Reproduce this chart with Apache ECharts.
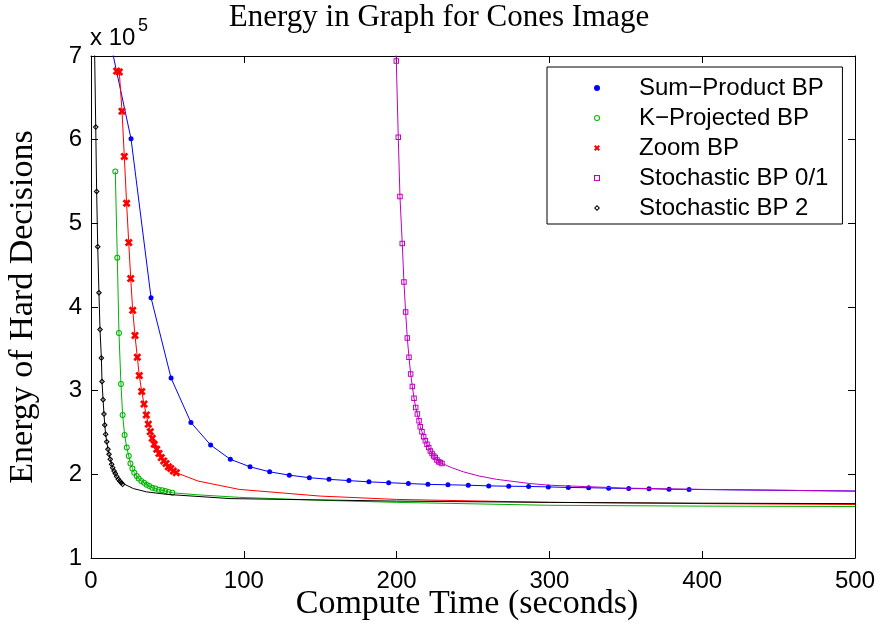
<!DOCTYPE html>
<html>
<head>
<meta charset="utf-8">
<title>Energy in Graph for Cones Image</title>
<script src="https://cdn.jsdelivr.net/npm/echarts@6/dist/echarts.min.js"></script>
<style>
  html, body { margin: 0; padding: 0; background: #fff; }
  #chart { width: 878px; height: 626px; }
</style>
</head>
<body>
<div id="chart"></div>
<script>
// values; energy in units of 1e5, time in seconds
var xTicks = [0, 100, 200, 300, 400, 500];
var yTicks = [1, 2, 3, 4, 5, 6, 7];
var seriesNames = ['Sum\u2212Product BP', 'K\u2212Projected BP', 'Zoom BP', 'Stochastic BP 0/1', 'Stochastic BP 2'];

// Sum-Product BP (markers, then the line tail without markers)
var spMarkX = [13.2, 26.2, 39.3, 52.4, 65.4, 78.3, 91.2, 104.1, 116.9, 129.8, 142.9, 155.8, 168.8, 181.9, 194.8,
  207.7, 220.5, 233.6, 246.9, 260.3, 273.4, 286.4, 299.3, 312.4, 325.7, 338.8, 351.9, 365.2, 378.3, 391.4];
var spMarkY = [7.12, 6.01, 4.11, 3.15, 2.62, 2.35, 2.18, 2.09, 2.03, 1.99, 1.96, 1.94, 1.925, 1.91, 1.90,
  1.89, 1.88, 1.875, 1.87, 1.862, 1.858, 1.855, 1.85, 1.843, 1.84, 1.835, 1.83, 1.828, 1.822, 1.82];
var spTailX = [500];
var spTailY = [1.80];

// K-Projected BP
var kpMarkX = [15.9, 17.2, 18.3, 19.6, 20.7, 22.0, 23.4, 24.7, 25.8, 27.1, 28.3, 29.9, 31.2, 32.9, 34.7, 36.4,
  38.2, 40.1, 42.1, 44.3, 46.5, 48.6, 50.8, 53.2];
var kpMarkY = [5.62, 4.59, 3.69, 3.08, 2.71, 2.47, 2.32, 2.22, 2.13, 2.07, 2.02, 1.98, 1.95, 1.92, 1.90, 1.875,
  1.86, 1.84, 1.83, 1.815, 1.81, 1.80, 1.79, 1.78];
var kpTailX = [70, 97, 150, 200, 300, 400, 500];
var kpTailY = [1.755, 1.725, 1.69, 1.665, 1.63, 1.62, 1.615];

// Zoom BP
var zmMarkX = [16.8, 18.5, 20.3, 21.8, 23.3, 24.7, 26.0, 27.3, 28.8, 30.3, 31.6, 33.2, 34.7, 36.2, 37.5, 38.8,
  40.1, 41.4, 43.0, 44.5, 46.0, 47.6, 49.1, 50.6, 52.2, 53.9, 55.8];
var zmMarkY = [6.82, 6.81, 6.34, 5.80, 5.24, 4.77, 4.34, 3.96, 3.66, 3.40, 3.18, 2.99, 2.84, 2.71, 2.60, 2.51,
  2.43, 2.36, 2.30, 2.25, 2.20, 2.16, 2.13, 2.09, 2.07, 2.04, 2.02];
var zmTailX = [70, 97, 150, 200, 300, 400, 500];
var zmTailY = [1.92, 1.82, 1.74, 1.70, 1.665, 1.65, 1.64];

// Stochastic BP 0/1
var s01MarkX = [198.6, 199.8, 201.1, 202.2, 203.7, 204.8, 205.9, 207.0, 208.1, 209.2, 210.3, 211.4, 212.5, 213.6,
  214.7, 215.5, 216.6, 217.7, 218.8, 219.9, 221.0, 222.1, 223.2, 224.3, 225.3, 226.4, 227.5, 228.6, 229.7];
var s01MarkY = [8.0, 6.94, 6.03, 5.32, 4.76, 4.30, 3.94, 3.63, 3.40, 3.20, 3.05, 2.91, 2.80, 2.72,
  2.64, 2.57, 2.51, 2.45, 2.40, 2.36, 2.32, 2.28, 2.25, 2.22, 2.20, 2.17, 2.15, 2.14, 2.13];
var s01TailX = [236, 243.7, 254, 265.5, 287.3, 300, 350, 400, 450, 500];
var s01TailY = [2.08, 2.03, 1.98, 1.94, 1.89, 1.87, 1.835, 1.82, 1.81, 1.80];

// Stochastic BP 2
var s2MarkX = [2.2, 3.1, 3.7, 4.4, 5.2, 5.9, 6.8, 7.2, 7.9, 8.5, 9.0, 9.6, 10.3, 11.1, 11.8, 12.6, 13.5, 14.2,
  15.1, 15.9, 16.8, 17.9, 18.8, 19.8, 20.7];
var s2MarkY = [7.25, 6.15, 5.38, 4.72, 4.17, 3.73, 3.39, 3.11, 2.89, 2.72, 2.59, 2.48, 2.39, 2.30, 2.24, 2.18,
  2.12, 2.08, 2.04, 2.01, 1.975, 1.94, 1.92, 1.90, 1.88];
var s2TailX = [27.7, 36.4, 50, 91, 200, 300, 400, 500];
var s2TailY = [1.83, 1.79, 1.76, 1.71, 1.68, 1.665, 1.655, 1.65];

var colors = ['#0000ff', '#00b400', '#ff0000', '#bf00bf', '#000000'];

// marker shapes (hollow ones are rings so they fill cleanly in series and legend)
var SYM_DOT = 'circle';
var SYM_RING = 'path://M5,0A5,5 0 1 1 5,10A5,5 0 1 1 5,0Z M5,1.7A3.3,3.3 0 1 0 5,8.3A3.3,3.3 0 1 0 5,1.7Z';
var SYM_X = 'path://M2.4,0L5,2.6L7.6,0L10,2.4L7.4,5L10,7.6L7.6,10L5,7.4L2.4,10L0,7.6L2.6,5L0,2.4Z';
var SYM_SQ = 'path://M0,0H10V10H0Z M1.8,1.8V8.2H8.2V1.8Z';
var SYM_DIA = 'path://M5,0L10,5L5,10L0,5Z M5,2.4L2.4,5L5,7.6L7.6,5Z';
var symbols = [SYM_DOT, SYM_RING, SYM_X, SYM_SQ, SYM_DIA];
var symbolSizes = [5, 6, 8, 5.5, 6];

function buildData(mx, my, tx, ty) {
  var d = [];
  for (var i = 0; i < mx.length; i++) d.push([mx[i], my[i]]);
  for (var j = 0; j < tx.length; j++) d.push({ value: [tx[j], ty[j]], symbol: 'none' });
  return d;
}

var allData = [
  buildData(spMarkX, spMarkY, spTailX, spTailY),
  buildData(kpMarkX, kpMarkY, kpTailX, kpTailY),
  buildData(zmMarkX, zmMarkY, zmTailX, zmTailY),
  buildData(s01MarkX, s01MarkY, s01TailX, s01TailY),
  buildData(s2MarkX, s2MarkY, s2TailX, s2TailY)
];

var chart = echarts.init(document.getElementById('chart'), null, { renderer: 'canvas' });

var SANS = '"Liberation Sans", Arial, sans-serif';
var SERIF = '"Liberation Serif", "Times New Roman", serif';

var series = seriesNames.map(function (name, i) {
  return {
    name: name,
    type: 'line',
    data: allData[i],
    xAxisIndex: 0,
    yAxisIndex: 0,
    symbol: symbols[i],
    symbolSize: symbolSizes[i],
    symbolKeepAspect: true,
    showSymbol: true,
    showAllSymbol: true,
    clip: true,
    lineStyle: { width: 1, color: colors[i] },
    itemStyle: { color: colors[i], borderWidth: 0 },
    emphasis: { disabled: true },
    z: 2 + i
  };
});

var axisCommon = {
  type: 'value',
  splitLine: { show: false },
  axisLine: { show: true, onZero: false, lineStyle: { color: '#000', width: 1 } },
  axisTick: { show: true, inside: true, length: 7, lineStyle: { color: '#000', width: 1 } }
};

var option = {
  animation: false,
  backgroundColor: '#fff',
  title: {
    text: 'Energy in Graph for Cones Image',
    left: 'center',
    top: -3,
    textStyle: { fontFamily: SERIF, fontWeight: 'normal', fontSize: 31, color: '#000' }
  },
  grid: { left: 91, right: 23, top: 56, bottom: 68, containLabel: false, outerBoundsMode: 'none' },
  legend: {
    orient: 'vertical',
    left: 547,
    top: 67,
    padding: [9, 14, 4, 47],
    itemGap: 6,
    itemWidth: 74,
    itemHeight: 6,
    symbolKeepAspect: true,
    backgroundColor: '#fff',
    borderColor: '#000',
    borderWidth: 1,
    borderRadius: 0,
    itemStyle: { borderWidth: 0 },
    textStyle: { fontFamily: SANS, fontSize: 24, color: '#000', padding: 0 },
    data: seriesNames.map(function (n, i) { return { name: n, icon: symbols[i] }; }),
    selectedMode: false
  },
  xAxis: [
    Object.assign({}, axisCommon, {
      position: 'bottom',
      min: xTicks[0], max: xTicks[xTicks.length - 1], interval: 100,
      name: 'Compute Time (seconds)',
      nameLocation: 'middle',
      nameGap: 29,
      nameMoveOverlap: false,
      nameTextStyle: { fontFamily: SERIF, fontSize: 34, color: '#000', padding: [0, 12, 0, 0] },
      axisLabel: { show: true, margin: 11, fontFamily: SANS, fontSize: 24, color: '#000' }
    }),
    Object.assign({}, axisCommon, {
      position: 'top',
      min: xTicks[0], max: xTicks[xTicks.length - 1], interval: 100,
      axisLabel: { show: false }
    })
  ],
  yAxis: [
    Object.assign({}, axisCommon, {
      position: 'left',
      min: yTicks[0], max: yTicks[yTicks.length - 1], interval: 1,
      name: 'Energy of Hard Decisions',
      nameLocation: 'middle',
      nameGap: 51,
      nameTextStyle: { fontFamily: SERIF, fontSize: 34, color: '#000' },
      axisLabel: { show: true, margin: 9, fontFamily: SANS, fontSize: 24, color: '#000' }
    }),
    Object.assign({}, axisCommon, {
      position: 'right',
      min: yTicks[0], max: yTicks[yTicks.length - 1], interval: 1,
      axisLabel: { show: false }
    })
  ],
  graphic: [
    { type: 'text', left: 90, top: 26, style: { text: 'x 10', font: '24px ' + SANS, fill: '#000' } },
    { type: 'text', left: 138, top: 17, style: { text: '5', font: '18px ' + SANS, fill: '#000' } }
  ],
  series: series
};

chart.setOption(option);
window.addEventListener('resize', function () { chart.resize(); });
</script>
</body>
</html>
